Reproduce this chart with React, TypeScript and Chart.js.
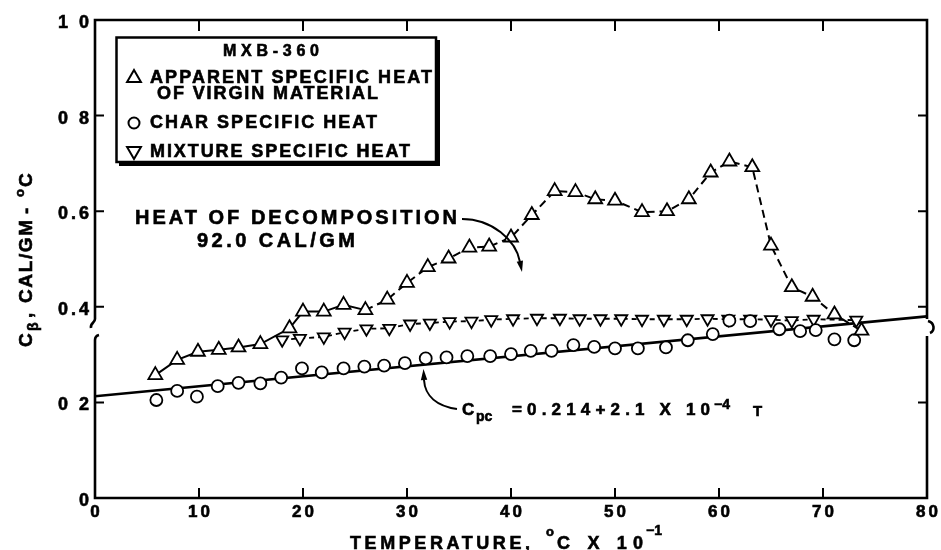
import React, { useEffect, useRef } from "react";
import { Chart, registerables } from "chart.js";
Chart.register(...registerables);

// ---- axis ticks ----
const xTicks = [0, 10, 20, 30, 40, 50, 60, 70, 80];
const xTickLabels = ["0", "10", "20", "30", "40", "50", "60", "70", "80"];
const yTicks = [0, 0.2, 0.4, 0.6, 0.8, 1.0];
const yTickLabels = ["0", "0 2", "0.4", "0.6", "0 8", "1 0"];
const yBreak = [0.339, 0.362];

// ---- data (temperature, °C x 10^-1 ; specific heat, cal/gm-°C) ----
const apparentT = [5.8, 7.9, 9.9, 11.9, 13.8, 15.9, 18.7, 20.0, 22.0, 23.9, 26.0, 28.1, 30.0, 32.0, 34.0, 36.0, 37.9, 40.0, 42.0, 44.2, 46.2, 48.1, 50.0, 52.6, 55.0, 57.1, 59.2, 61.0, 63.2, 65.0, 67.0, 69.0, 71.1, 73.7];
const apparentCp = [0.257, 0.289, 0.306, 0.310, 0.315, 0.322, 0.355, 0.390, 0.390, 0.404, 0.393, 0.415, 0.450, 0.483, 0.501, 0.524, 0.526, 0.545, 0.592, 0.642, 0.640, 0.625, 0.622, 0.598, 0.600, 0.625, 0.681, 0.704, 0.692, 0.528, 0.441, 0.421, 0.384, 0.350];

const mixtureT = [18.0, 19.7, 22.0, 24.0, 26.1, 28.3, 30.3, 32.2, 34.1, 36.2, 38.1, 40.2, 42.5, 44.7, 46.6, 48.6, 50.6, 52.6, 54.7, 56.9, 58.9, 60.9, 63.0, 65.0, 67.0, 69.1, 73.2];
const mixtureCp = [0.331, 0.334, 0.337, 0.347, 0.354, 0.355, 0.364, 0.366, 0.369, 0.370, 0.373, 0.375, 0.376, 0.376, 0.375, 0.375, 0.375, 0.374, 0.374, 0.374, 0.375, 0.374, 0.374, 0.373, 0.371, 0.374, 0.372];

const charT = [5.9, 7.9, 9.8, 11.8, 13.8, 15.9, 17.9, 19.9, 21.8, 23.9, 25.9, 27.8, 29.8, 31.8, 33.8, 35.8, 38.0, 40.0, 41.9, 43.9, 46.0, 48.0, 50.0, 52.2, 54.9, 57.0, 59.4, 61.0, 63.0, 65.8, 67.8, 69.3, 71.1, 73.0];
const charCp = [0.205, 0.224, 0.212, 0.234, 0.241, 0.240, 0.252, 0.271, 0.263, 0.271, 0.275, 0.277, 0.282, 0.292, 0.294, 0.297, 0.297, 0.301, 0.308, 0.308, 0.320, 0.316, 0.313, 0.313, 0.315, 0.330, 0.343, 0.371, 0.370, 0.353, 0.349, 0.351, 0.332, 0.330];

const fitT = [0, 80];
const fitCp = [0.213, 0.380];

// ---- texts ----
const legendTitle = "MXB-360";
const legendLines = ["APPARENT SPECIFIC HEAT", "OF VIRGIN MATERIAL", "CHAR SPECIFIC HEAT", "MIXTURE SPECIFIC HEAT"];
const heatText = ["HEAT OF DECOMPOSITION", "92.0 CAL/GM"];
const fitText = { c: "C", sub: "pc", main: "=0.214+2.1 X 10", sup: "\u22124", tail: "T" };
const xTitle = { a: "TEMPERATURE,", deg: "o", b: "C X 10", sup: "\u22121" };
const yTitle = { c: "C", sub: "\u03b2", comma: ",", main: "CAL/GM", dash: "-", deg: "o", unit: "C" };

const FONT = '"Liberation Sans", Arial, Helvetica, sans-serif';

function setFont(ctx: CanvasRenderingContext2D, size: number) {
  ctx.font = `bold ${size}px ${FONT}`;
  (ctx as any).letterSpacing = "0px";
}

function ink(ctx: CanvasRenderingContext2D, s: string, x: number, y: number) {
  ctx.fillText(s, x, y);
  ctx.lineWidth = 0.6;
  ctx.strokeText(s, x, y);
}

// draw text with left edge x, stretched to a total width
function spaced(ctx: CanvasRenderingContext2D, s: string, x: number, y: number, size: number, width?: number) {
  setFont(ctx, size);
  if (width && s.length > 1) {
    const w = ctx.measureText(s).width;
    const ls = Math.max(0, (width - w) / (s.length - 1));
    (ctx as any).letterSpacing = ls + "px";
  }
  ctx.textAlign = "left";
  ctx.textBaseline = "alphabetic";
  ink(ctx, s, x, y);
  (ctx as any).letterSpacing = "0px";
}

function tracked(ctx: CanvasRenderingContext2D, s: string, cx: number, y: number, size: number, ls: number, align: "center" | "right") {
  setFont(ctx, size);
  const w0 = ctx.measureText(s).width;
  const w = w0 + ls * (s.length - 1);
  const x = align === "center" ? cx - w / 2 : cx - w;
  (ctx as any).letterSpacing = ls + "px";
  ctx.textAlign = "left";
  ctx.textBaseline = "alphabetic";
  ink(ctx, s, x, y);
  (ctx as any).letterSpacing = "0px";
}

function arrowHead(ctx: CanvasRenderingContext2D, x: number, y: number, ang: number, len: number, half: number) {
  ctx.beginPath();
  ctx.moveTo(x, y);
  ctx.lineTo(x - len * Math.cos(ang) + half * Math.sin(ang), y - len * Math.sin(ang) - half * Math.cos(ang));
  ctx.lineTo(x - len * Math.cos(ang) - half * Math.sin(ang), y - len * Math.sin(ang) + half * Math.cos(ang));
  ctx.closePath();
  ctx.fill();
}

function tri(ctx: CanvasRenderingContext2D, cx: number, cy: number, r: number, down: boolean) {
  const s = down ? -1 : 1;
  ctx.beginPath();
  ctx.moveTo(cx, cy - s * r);
  ctx.lineTo(cx + r * 0.866, cy + s * r * 0.5);
  ctx.lineTo(cx - r * 0.866, cy + s * r * 0.5);
  ctx.closePath();
  ctx.stroke();
}

const decor = {
  id: "decor",
  afterDraw(chart: any) {
    const { ctx, chartArea: a, scales } = chart;
    const xs = scales.x, ys = scales.y;
    const L = a.left, R = a.right, T = a.top, B = a.bottom;
    ctx.save();
    ctx.strokeStyle = "#000";
    ctx.fillStyle = "#000";
    ctx.lineCap = "butt";

    // frame
    ctx.lineWidth = 2.6;
    const bTop = ys.getPixelForValue(yBreak[1]);
    const bBot = ys.getPixelForValue(yBreak[0]);
    ctx.beginPath();
    ctx.moveTo(L - 1.3, T); ctx.lineTo(R + 1.3, T);
    ctx.moveTo(L - 1.3, B); ctx.lineTo(R + 1.3, B);
    // left axis with break
    ctx.moveTo(L, T); ctx.lineTo(L, bTop - 6);
    ctx.bezierCurveTo(L, bTop - 2, L - 5, bTop - 2, L - 4, bTop + 3);
    ctx.moveTo(L + 4, bBot - 1);
    ctx.quadraticCurveTo(L, bBot, L, bBot + 4);
    ctx.lineTo(L, B);
    // right axis with break
    ctx.moveTo(R, T); ctx.lineTo(R, bTop - 6);
    ctx.moveTo(R + 1, bTop - 4);
    ctx.bezierCurveTo(R + 8, bTop - 2, R + 8, bTop + 6, R + 3, bTop + 8);
    ctx.moveTo(R, bBot); ctx.lineTo(R, B);
    ctx.stroke();

    // ticks
    ctx.lineWidth = 2;
    ctx.beginPath();
    xTicks.forEach((v) => {
      if (v <= xs.min || v >= xs.max) return;
      const px = xs.getPixelForValue(v);
      ctx.moveTo(px, B); ctx.lineTo(px, B - 10);
      ctx.moveTo(px, T); ctx.lineTo(px, T + 11);
    });
    yTicks.forEach((v) => {
      if (v <= ys.min || v >= ys.max) return;
      const py = ys.getPixelForValue(v);
      ctx.moveTo(L, py); ctx.lineTo(L + 9, py);
      ctx.moveTo(R, py); ctx.lineTo(R - 9, py);
    });
    ctx.stroke();

    // tick labels
    xTicks.forEach((v, i) => {
      tracked(ctx, xTickLabels[i], xs.getPixelForValue(v), B + 19, 17, 3, "center");
    });
    yTicks.forEach((v, i) => {
      tracked(ctx, yTickLabels[i], L - 6, ys.getPixelForValue(v) + 8, 18, 3, "right");
    });

    // x title
    spaced(ctx, xTitle.a, 350, 549, 18, 180);
    spaced(ctx, xTitle.deg, 546, 536, 13);
    spaced(ctx, xTitle.b, 557, 549, 18, 86);
    spaced(ctx, xTitle.sup, 646, 535, 14);

    // y title (rotated)
    ctx.save();
    ctx.translate(32, 347);
    ctx.rotate(-Math.PI / 2);
    spaced(ctx, yTitle.c, 0, 0, 19);
    spaced(ctx, yTitle.sub, 16, 6, 14);
    spaced(ctx, yTitle.comma, 29, 0, 19);
    spaced(ctx, yTitle.main, 44, 0, 19, 83);
    spaced(ctx, yTitle.dash, 133, 0, 19);
    spaced(ctx, yTitle.deg, 150, -8, 13);
    spaced(ctx, yTitle.unit, 160, 0, 19);
    ctx.restore();

    // legend box
    ctx.lineWidth = 2.5;
    ctx.strokeRect(116.5, 37.5, 319.5, 124.5);
    ctx.fillRect(436, 40, 4, 126);
    ctx.fillRect(119, 162, 321, 4);
    spaced(ctx, legendTitle, 223, 56, 16, 96);
    ctx.lineWidth = 2;
    tri(ctx, 134, 78, 8, false);
    spaced(ctx, legendLines[0], 150, 83, 18, 282);
    spaced(ctx, legendLines[1], 157, 99, 18, 221);
    ctx.lineWidth = 2;
    ctx.beginPath(); ctx.arc(134, 123, 5.5, 0, Math.PI * 2); ctx.stroke();
    spaced(ctx, legendLines[2], 150, 128, 18, 227);
    ctx.lineWidth = 2;
    tri(ctx, 134, 151, 8, true);
    spaced(ctx, legendLines[3], 150, 157, 18, 260);

    // heat of decomposition annotation
    spaced(ctx, heatText[0], 135, 224, 20, 322);
    spaced(ctx, heatText[1], 197, 247, 20, 158);
    ctx.lineWidth = 2;
    ctx.beginPath();
    ctx.moveTo(462, 219);
    ctx.bezierCurveTo(492, 219, 516, 240, 520, 262);
    ctx.stroke();
    arrowHead(ctx, 522, 272, Math.atan2(10, 2), 11, 3.2);

    // fit annotation
    spaced(ctx, fitText.c, 462, 415, 17);
    spaced(ctx, fitText.sub, 476, 421, 14);
    spaced(ctx, fitText.main, 512, 415, 17, 198);
    spaced(ctx, fitText.sup, 714, 409, 14);
    spaced(ctx, fitText.tail, 753, 416, 15);
    ctx.lineWidth = 2;
    ctx.beginPath();
    ctx.moveTo(457, 409);
    ctx.bezierCurveTo(437, 406, 425, 396, 424, 380);
    ctx.stroke();
    arrowHead(ctx, 423.5, 369, -Math.PI / 2 - 0.05, 11, 3.2);

    ctx.restore();
  },
};

const pts = (xs: number[], ys: number[]) => xs.map((x, i) => ({ x, y: ys[i] }));

export default function App() {
  const ref = useRef<HTMLCanvasElement | null>(null);
  useEffect(() => {
    if (!ref.current) return;
    const chart = new Chart(ref.current, {
      type: "scatter",
      data: {
        datasets: [
          {
            label: "fit",
            data: pts(fitT, fitCp),
            showLine: true,
            borderColor: "#000",
            borderWidth: 2.6,
            pointRadius: 0,
            order: 4,
          },
          {
            label: "MIXTURE SPECIFIC HEAT",
            data: pts(mixtureT, mixtureCp),
            showLine: true,
            borderColor: "#000",
            borderWidth: 1.8,
            borderDash: [5, 4],
            pointStyle: "triangle",
            pointRotation: 180,
            pointRadius: 7,
            pointBorderWidth: 1.8,
            pointBackgroundColor: "#fff",
            pointBorderColor: "#000",
            order: 3,
          },
          {
            label: "CHAR SPECIFIC HEAT",
            data: pts(charT, charCp),
            showLine: false,
            pointStyle: "circle",
            pointRadius: 6,
            pointBorderWidth: 1.8,
            pointBackgroundColor: "#fff",
            pointBorderColor: "#000",
            order: 2,
          },
          {
            label: "APPARENT SPECIFIC HEAT OF VIRGIN MATERIAL",
            data: pts(apparentT, apparentCp),
            showLine: true,
            borderColor: "#000",
            borderWidth: 2,
            segment: {
              borderDash: (c: any) => (c.p0.parsed.x >= 26 ? [8, 5] : undefined),
            },
            pointStyle: "triangle",
            pointRadius: 8,
            pointBorderWidth: 1.8,
            pointBackgroundColor: "#fff",
            pointBorderColor: "#000",
            order: 1,
          },
        ] as any,
      },
      options: {
        animation: false,
        responsive: false,
        devicePixelRatio: 1,
        layout: { padding: { left: 95, top: 20, right: 14, bottom: 52 } },
        plugins: { legend: { display: false }, tooltip: { enabled: false } },
        scales: {
          x: { type: "linear", min: 0, max: 80, display: false },
          y: { type: "linear", min: 0, max: 1, display: false },
        },
      } as any,
      plugins: [decor],
    });
    return () => chart.destroy();
  }, []);
  return (
    <div style={{ position: "absolute", left: 0, top: 0, width: 941, height: 550, background: "#fff" }}>
      <canvas ref={ref} width={941} height={550} style={{ display: "block" }} />
    </div>
  );
}
